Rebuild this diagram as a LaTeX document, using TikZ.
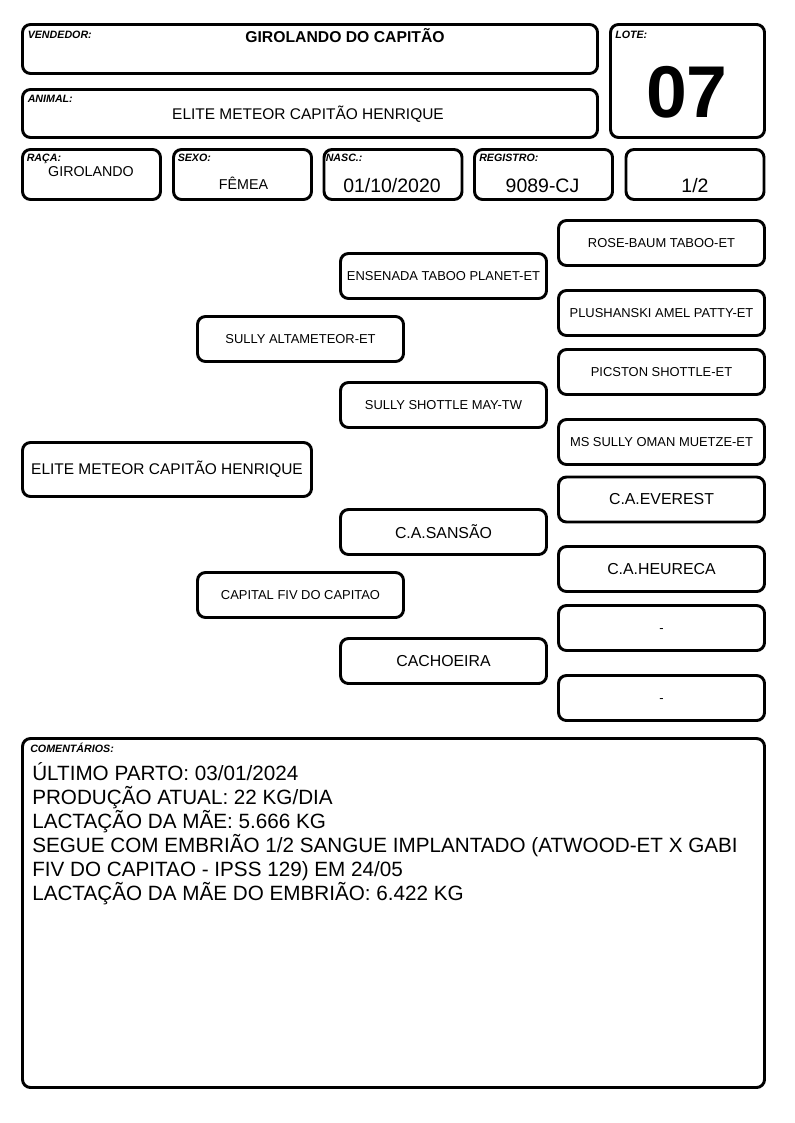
\documentclass[tikz,border=0pt]{standalone}
\usepackage{fontspec}
\setmainfont{Liberation Sans}

\begin{document}
\begin{tikzpicture}[x=0.75pt,y=-0.75pt,
	box/.style={draw,line width=2.2pt,rounded corners=6pt,inner sep=0pt},
	small/.style={box,minimum width=103.5pt,minimum height=37.5pt},
	ped/.style={box,minimum width=154.5pt,minimum height=33.75pt,font=\fontsize{9.7}{11}\selectfont},
	pedbig/.style={ped,font=\fontsize{11.9}{14}\selectfont},
	tag/.style={anchor=base west,inner sep=0pt,font=\fontsize{8}{9}\selectfont\bfseries\itshape},
	val/.style={anchor=base,inner sep=0pt}]
\useasboundingbox (0,0) rectangle (794,1123);

% cabecalho
\node[box,minimum width=431.25pt,minimum height=36.75pt] at (310,49)	(VEND) {};
\node[box,minimum width=431.25pt,minimum height=36pt] at (310,113.5)	(ANIM) {};
\node[box,minimum width=115.5pt,minimum height=84.75pt] at (687.5,81)	(LOTE) {};
\node[small] at (91.5,174.5)	(RACA) {};
\node[small] at (242.5,174.5)	(SEXO) {};
\node[small] at (393,174.5)	(NASC) {};
\node[small] at (543.5,174.5)	(REG) {};
\node[small] at (695,174.5)	(FRAC) {};

\node[tag] at (27.5,38.5)	(tVEND) {VENDEDOR:};
\node[tag] at (27.5,103)	(tANIM) {ANIMAL:};
\node[tag] at (615,38.5)	(tLOTE) {LOTE:};
\node[tag] at (26.5,162)	(tRACA) {RAÇA:};
\node[tag] at (177.5,162)	(tSEXO) {SEXO:};
\node[tag] at (325.5,162)	(tNASC) {NASC.:};
\node[tag] at (479,162)	(tREG) {REGISTRO:};

\node[val,font=\fontsize{11.8}{14}\selectfont\bfseries] at (345,43)	(vVEND) {GIROLANDO DO CAPITÃO};
\node[val,font=\fontsize{11.6}{14}\selectfont] at (308,119.5)	(vANIM) {ELITE METEOR CAPITÃO HENRIQUE};
\node[val,font=\fontsize{55}{60}\selectfont\bfseries] at (687,118)	(vLOTE) {07};
\node[val,font=\fontsize{10.7}{13}\selectfont] at (91,177)	(vRACA) {GIROLANDO};
\node[val,font=\fontsize{10.7}{13}\selectfont] at (243.5,189.5)	(vSEXO) {FÊMEA};
\node[val,font=\fontsize{14.6}{17}\selectfont] at (392,193)	(vNASC) {01/10/2020};
\node[val,font=\fontsize{14.6}{17}\selectfont] at (542.5,193)	(vREG) {9089-CJ};
\node[val,font=\fontsize{14.6}{17}\selectfont] at (695,193)	(vFRAC) {1/2};

% genealogia
\node[box,minimum width=216.75pt,minimum height=40.5pt,font=\fontsize{11.6}{14}\selectfont] at (167,469.5) (ANIMAL) {ELITE METEOR CAPITÃO HENRIQUE};

\node[ped] at (300.5,339)	(P) {SULLY ALTAMETEOR-ET};
\node[ped] at (300.5,595)	(M) {CAPITAL FIV DO CAPITAO};

\node[ped] at (443.5,276)	(PP) {ENSENADA TABOO PLANET-ET};
\node[ped] at (443.5,405)	(PM) {SULLY SHOTTLE MAY-TW};
\node[pedbig] at (443.5,532)	(MP) {C.A.SANSÃO};
\node[pedbig] at (443.5,661)	(MM) {CACHOEIRA};

\node[ped] at (661.5,243)	(PPP) {ROSE-BAUM TABOO-ET};
\node[ped] at (661.5,313)	(PPM) {PLUSHANSKI AMEL PATTY-ET};
\node[ped] at (661.5,372)	(PMP) {PICSTON SHOTTLE-ET};
\node[ped] at (661.5,442)	(PMM) {MS SULLY OMAN MUETZE-ET};
\node[pedbig] at (661.5,499.5)	(MPP) {C.A.EVEREST};
\node[pedbig] at (661.5,569)	(MPM) {C.A.HEURECA};
\node[ped] at (661.5,628)	(MMP) {\raisebox{-3pt}[0pt][0pt]{-}};
\node[ped] at (661.5,698)	(MMM) {\raisebox{-3pt}[0pt][0pt]{-}};

% comentarios
\node[box,minimum width=556.5pt,minimum height=261.75pt] at (393.5,913) (COM) {};
\node[tag] at (30,752.5) (tCOM) {COMENTÁRIOS:};
\foreach \t [count=\i] in {ÚLTIMO PARTO: 03/01/2024,PRODUÇÃO ATUAL: 22 KG/DIA,LACTAÇÃO DA MÃE: 5.666 KG,SEGUE COM EMBRIÃO 1/2 SANGUE IMPLANTADO (ATWOOD-ET X GABI,FIV DO CAPITAO - IPSS 129) EM 24/05,LACTAÇÃO DA MÃE DO EMBRIÃO: 6.422 KG}
	\node[tag,font=\fontsize{15.5}{18}\selectfont] at (32,756+24*\i) (c\i) {\t};
\end{tikzpicture}
\end{document}
